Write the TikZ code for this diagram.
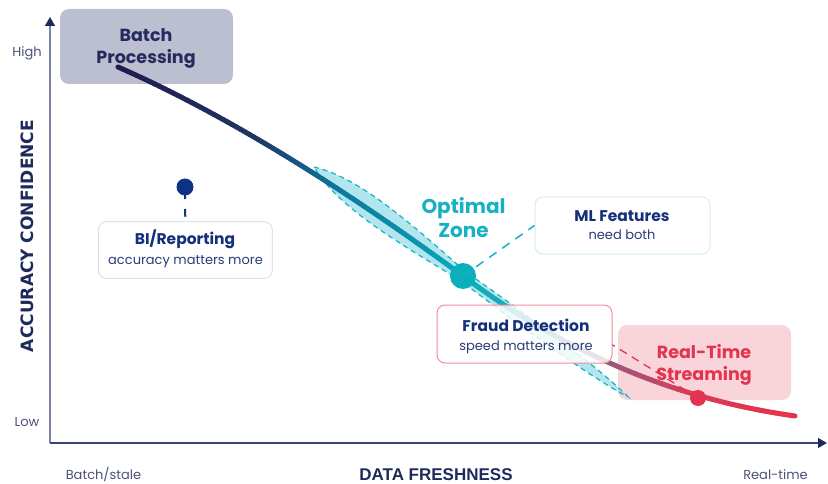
\documentclass[tikz,border=0pt]{standalone}
\usepackage{fontspec}
\setmainfont{Poppins}
\newfontfamily\capsfont{DejaVu Sans}
\newfontfamily\headfont{Liberation Sans}
\usetikzlibrary{arrows.meta}

\definecolor{navy}{HTML}{1F2A5C}
\definecolor{inkblue}{HTML}{15307A}
\definecolor{subblue}{HTML}{2A3C78}
\definecolor{slate}{HTML}{4B5177}
\definecolor{axisgray}{HTML}{7C82A8}
\definecolor{axisdark}{HTML}{3A4374}
\definecolor{batchfill}{HTML}{BCBFD0}
\definecolor{batchtext}{HTML}{262B5F}
\definecolor{zonecyan}{HTML}{16B1C3}
\definecolor{bandfill}{HTML}{A4E2EB}
\definecolor{dotteal}{HTML}{0AAFBB}
\definecolor{dotnavy}{HTML}{0D3386}
\definecolor{rtfill}{HTML}{F9D4DA}
\definecolor{rtred}{HTML}{E3344F}
\definecolor{fraudedge}{HTML}{EE8E9C}
\definecolor{mledge}{HTML}{D3EEF3}
\definecolor{biedge}{HTML}{DCE1EC}
% colour stops along the trade-off curve
\definecolor{cA}{HTML}{23194F}
\definecolor{cB}{HTML}{1E3563}
\definecolor{cC}{HTML}{0B7AA0}
\definecolor{cD}{HTML}{0996B0}
\definecolor{cE}{HTML}{05AEBD}
\definecolor{cF}{HTML}{2FA5B8}
\definecolor{cG}{HTML}{9A5A7C}
\definecolor{cH}{HTML}{DC3A58}
\definecolor{cI}{HTML}{E8304C}

% cubic Bezier helpers for drawing a colour-graded stroke
\newcommand\setbez[8]{\def\bxa{#1}\def\bya{#2}\def\bxb{#3}\def\byb{#4}\def\bxc{#5}\def\byc{#6}\def\bxd{#7}\def\byd{#8}}
\newcommand\bezat[3]{%
  \pgfmathsetmacro#2{(1-#1)^3*\bxa+3*(1-#1)^2*#1*\bxb+3*(1-#1)*#1^2*\bxc+#1^3*\bxd}%
  \pgfmathsetmacro#3{(1-#1)^3*\bya+3*(1-#1)^2*#1*\byb+3*(1-#1)*#1^2*\byc+#1^3*\byd}}
\newcommand\curvepart[5]{%
  \foreach \k in {1,...,#5}{%
    \pgfmathsetmacro\gTa{#1+(#2-#1)*(\k-1)/#5}%
    \pgfmathsetmacro\gTb{#1+(#2-#1)*\k/#5}%
    \pgfmathtruncatemacro\gMix{100*(\k-0.5)/#5}%
    \bezat{\gTa}{\gXa}{\gYa}%
    \bezat{\gTb}{\gXb}{\gYb}%
    \draw[curveseg, draw=#4!\gMix!#3] (\gXa,\gYa) -- (\gXb,\gYb);
  }}

\tikzset{
  curveseg/.style={line width=5pt, line cap=round},
  panel/.style={rounded corners=9pt, inner sep=0pt, minimum width=173pt, minimum height=75pt},
  card/.style={rounded corners=8pt, fill=white, fill opacity=0.82, line width=1pt, inner sep=0pt},
  cardtitle/.style={anchor=base, text=inkblue, font=\bfseries\fontsize{15.5}{18}\selectfont},
  cardnote/.style={anchor=base, text=subblue, font=\fontsize{13}{15}\selectfont},
  bigtitle/.style={anchor=base, font=\bfseries\fontsize{17.5}{20}\selectfont},
  ticklabel/.style={anchor=base, text=slate, font=\fontsize{13}{15}\selectfont},
  axisline/.style={line width=1.4pt, -{Triangle[length=9pt,width=10pt,color=navy]}},
  bandshape/.style={fill=bandfill, fill opacity=0.85, draw=zonecyan, line width=1.2pt, dash pattern=on 5pt off 4pt},
  dotmark/.style={circle, inner sep=0pt},
}

\begin{document}
\begin{tikzpicture}[x=1pt, y=-1pt]
\useasboundingbox (0,0) rectangle (828,484);

% axes
\coordinate (origin) at (50,443);
\coordinate (ytip) at (50,17);
\coordinate (xtip) at (827,443);
\draw[axisline, draw=axisgray] (origin) -- (ytip);
\draw[axisline, draw=axisdark] (origin) -- (xtip);

\node[ticklabel] (high) at (27,57) {High};
\node[ticklabel] (low) at (27,426) {Low};
\node[ticklabel] (stale) at (103.5,479) {Batch/stale};
\node[ticklabel] (realtime) at (775.5,479) {Real-time};
\node[anchor=base, text=navy, font=\headfont\bfseries\fontsize{17}{20}\selectfont] (xlabel) at (436,480) {DATA FRESHNESS};
\node[rotate=90, inner sep=0pt, text=navy, font=\capsfont\bfseries\fontsize{17}{20}\selectfont] (ylabel) at (27.5,236) {ACCURACY CONFIDENCE};

% end-point panels
\node[panel, fill=batchfill] (batch) at (146.5,46.5) {};
\node[bigtitle, text=batchtext] (batchA) at (146,42) {Batch};
\node[bigtitle, text=batchtext] (batchB) at (146,64) {Processing};
\node[panel, fill=rtfill] (stream) at (704.5,362.5) {};
\node[bigtitle, text=rtred] (streamA) at (704,358) {Real-Time};
\node[bigtitle, text=rtred] (streamB) at (704,380) {Streaming};

% optimal zone band
\begin{scope}[shift={(314,167)}, rotate=-36.2]
  \path[bandshape] (0,0) .. controls (40,-17) and (100,-13) .. (184,-5)
     .. controls (260,-6.5) and (350,-6.5) .. (389,0)
     .. controls (350,6.5) and (260,6.5) .. (184,5)
     .. controls (100,13) and (40,17) .. (0,0) -- cycle;
\end{scope}

% trade-off curve, batch side
\setbez{118}{67}{250}{125}{380}{215}{463}{276}
\curvepart{0}{0.35}{cA}{cB}{30}
\curvepart{0.35}{0.6}{cB}{cC}{24}
\curvepart{0.6}{0.85}{cC}{cD}{24}
\curvepart{0.85}{1}{cD}{cE}{14}
% trade-off curve, streaming side
\setbez{463}{276}{570}{356}{680}{400}{795}{416}
\curvepart{0}{0.2}{cE}{cF}{18}
\curvepart{0.2}{0.45}{cF}{cG}{22}
\curvepart{0.45}{0.7}{cG}{cH}{22}
\curvepart{0.7}{1}{cH}{cI}{26}

% use-case cards
\node[card, draw=biedge, minimum width=174pt, minimum height=56.5pt] (bi) at (185.3,250) {};
\node[card, draw=mledge, minimum width=175pt, minimum height=57pt] (ml) at (622.5,225.5) {};
\node[card, draw=fraudedge, minimum width=175pt, minimum height=58pt] (fraud) at (524.5,334) {};

% markers
\node[dotmark, fill=dotnavy, minimum size=17pt] (bidot) at (185,187) {};
\node[dotmark, fill=dotteal, minimum size=26pt] (optdot) at (463,276) {};
\node[dotmark, fill=rtred, minimum size=16pt] (rtdot) at (698,398) {};

% leader lines
\draw[dotnavy, line width=2pt, dash pattern=on 12pt off 10pt, shorten >=4.5pt] (bidot.center) -- (bi.north);
\draw[zonecyan, line width=1.5pt, dash pattern=on 9pt off 7pt] (optdot.center) -- (ml.west);
\draw[rtred, line width=1.3pt, dash pattern=on 8pt off 6pt] (rtdot.center) -- (fraud.-7);

% card texts
\node[cardtitle] (biT) at (185,244.5) {BI/Reporting};
\node[cardnote] (biS) at (185.5,264.3) {accuracy matters more};
\node[cardtitle] (mlT) at (622,222) {ML Features};
\node[cardnote] (mlS) at (622,240) {need both};
\node[cardtitle] (fraudT) at (526,331) {Fraud Detection};
\node[cardnote] (fraudS) at (526,350) {speed matters more};

% zone label
\node[anchor=base, text=zonecyan, font=\bfseries\fontsize{20}{24}\selectfont] (zoneA) at (463.5,214) {Optimal};
\node[anchor=base, text=zonecyan, font=\bfseries\fontsize{20}{24}\selectfont] (zoneB) at (463.5,237.5) {Zone};
\end{tikzpicture}
\end{document}
